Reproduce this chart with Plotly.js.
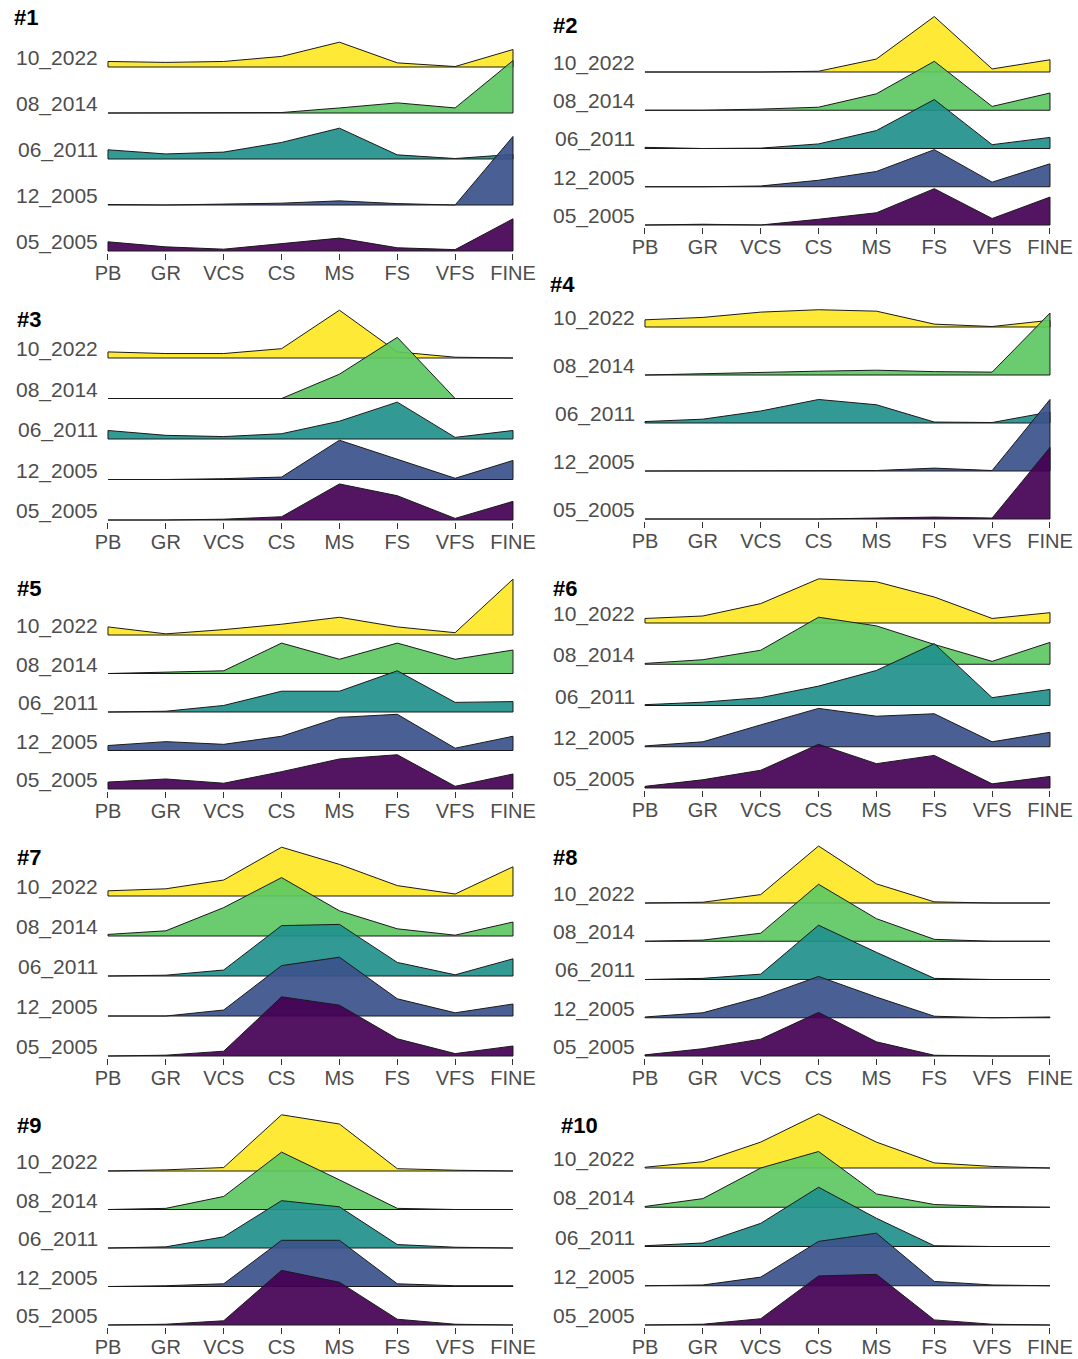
<!DOCTYPE html>
<html>
<head>
<meta charset="utf-8">
<script src="https://cdn.plot.ly/plotly-3.0.1.min.js"></script>
<style>html,body{margin:0;padding:0;background:#fff;}#chart{width:1078px;height:1359px;}</style>
</head>
<body>
<div id="chart"></div>
<script>
// ---------------- DATA ----------------
const categories = ['PB','GR','VCS','CS','MS','FS','VFS','FINE'];
const surveys = ['05_2005','12_2005','06_2011','08_2014','10_2022'];
const panelTitles = ['#1','#2','#3','#4','#5','#6','#7','#8','#9','#10'];

// values in units of ridge spacing, order PB..FINE
const p1_05_2005 = [0.20,0.09,0.04,0.16,0.28,0.07,0.03,0.70];
const p1_12_2005 = [0.01,0.00,0.02,0.04,0.09,0.03,0.00,1.49];
const p1_06_2011 = [0.20,0.11,0.15,0.36,0.67,0.09,0.01,0.10];
const p1_08_2014 = [0.00,0.00,0.00,0.01,0.11,0.22,0.11,1.14];
const p1_10_2022 = [0.12,0.10,0.12,0.23,0.54,0.09,0.01,0.38];

const p2_05_2005 = [0.00,0.02,0.00,0.15,0.32,0.95,0.17,0.73];
const p2_12_2005 = [0.00,0.00,0.02,0.17,0.40,0.97,0.12,0.60];
const p2_06_2011 = [0.03,0.00,0.01,0.12,0.47,1.28,0.10,0.29];
const p2_08_2014 = [0.00,0.00,0.03,0.08,0.43,1.28,0.10,0.45];
const p2_10_2022 = [0.00,0.00,0.00,0.02,0.34,1.45,0.08,0.32];

const p3_05_2005 = [0.00,0.00,0.02,0.08,0.89,0.60,0.04,0.46];
const p3_12_2005 = [0.00,0.00,0.02,0.06,0.97,0.50,0.03,0.47];
const p3_06_2011 = [0.21,0.09,0.06,0.13,0.44,0.91,0.04,0.21];
const p3_08_2014 = [0.00,0.00,0.00,0.00,0.60,1.51,0.00,0.00];
const p3_10_2022 = [0.15,0.11,0.11,0.23,1.18,0.15,0.02,0.00];

const p4_05_2005 = [0.00,0.00,0.00,0.00,0.02,0.04,0.02,1.49];
const p4_12_2005 = [0.00,0.00,0.00,0.00,0.01,0.06,0.01,1.49];
const p4_06_2011 = [0.03,0.08,0.25,0.49,0.38,0.02,0.01,0.23];
const p4_08_2014 = [0.00,0.03,0.06,0.08,0.10,0.07,0.06,1.29];
const p4_10_2022 = [0.15,0.20,0.31,0.36,0.33,0.06,0.01,0.14];

const p5_05_2005 = [0.18,0.26,0.15,0.45,0.78,0.89,0.07,0.39];
const p5_12_2005 = [0.13,0.23,0.16,0.37,0.86,0.94,0.06,0.37];
const p5_06_2011 = [0.00,0.02,0.17,0.54,0.54,1.07,0.25,0.27];
const p5_08_2014 = [0.00,0.03,0.07,0.79,0.37,0.79,0.37,0.61];
const p5_10_2022 = [0.21,0.03,0.14,0.28,0.46,0.21,0.06,1.45];

const p6_05_2005 = [0.04,0.20,0.43,1.06,0.59,0.79,0.10,0.28];
const p6_12_2005 = [0.02,0.12,0.53,0.93,0.74,0.80,0.12,0.35];
const p6_06_2011 = [0.02,0.08,0.19,0.47,0.85,1.50,0.19,0.39];
const p6_08_2014 = [0.02,0.11,0.34,1.14,0.93,0.48,0.07,0.53];
const p6_10_2022 = [0.11,0.17,0.47,1.07,1.00,0.63,0.11,0.25];

const p7_05_2005 = [0.00,0.02,0.12,1.48,1.27,0.43,0.06,0.25];
const p7_12_2005 = [0.00,0.00,0.15,1.26,1.47,0.43,0.08,0.30];
const p7_06_2011 = [0.00,0.02,0.15,1.26,1.29,0.34,0.03,0.43];
const p7_08_2014 = [0.04,0.13,0.71,1.46,0.63,0.18,0.02,0.35];
const p7_10_2022 = [0.13,0.18,0.40,1.22,0.79,0.26,0.05,0.73];

const p8_05_2005 = [0.03,0.19,0.44,1.14,0.37,0.02,0.00,0.00];
const p8_12_2005 = [0.02,0.13,0.54,1.08,0.54,0.04,0.00,0.02];
const p8_06_2011 = [0.00,0.03,0.14,1.42,0.71,0.03,0.00,0.00];
const p8_08_2014 = [0.00,0.03,0.21,1.49,0.59,0.05,0.00,0.00];
const p8_10_2022 = [0.00,0.02,0.22,1.49,0.50,0.03,0.00,0.00];

const p9_05_2005 = [0.00,0.02,0.11,1.42,1.11,0.15,0.02,0.00];
const p9_12_2005 = [0.00,0.02,0.07,1.20,1.20,0.07,0.02,0.02];
const p9_06_2011 = [0.00,0.03,0.29,1.23,1.07,0.09,0.02,0.00];
const p9_08_2014 = [0.00,0.03,0.34,1.49,0.77,0.03,0.00,0.00];
const p9_10_2022 = [0.00,0.03,0.09,1.46,1.22,0.06,0.02,0.00];

const p10_05_2005 = [0.00,0.02,0.16,1.25,1.29,0.13,0.02,0.00];
const p10_12_2005 = [0.00,0.02,0.22,1.13,1.34,0.11,0.02,0.00];
const p10_06_2011 = [0.02,0.09,0.59,1.51,0.72,0.02,0.00,0.00];
const p10_08_2014 = [0.02,0.22,1.00,1.42,0.34,0.07,0.02,0.00];
const p10_10_2022 = [0.02,0.16,0.66,1.38,0.66,0.13,0.04,0.00];

// ---------------- BUILD ----------------
const panelData = [
  [p1_05_2005,p1_12_2005,p1_06_2011,p1_08_2014,p1_10_2022],
  [p2_05_2005,p2_12_2005,p2_06_2011,p2_08_2014,p2_10_2022],
  [p3_05_2005,p3_12_2005,p3_06_2011,p3_08_2014,p3_10_2022],
  [p4_05_2005,p4_12_2005,p4_06_2011,p4_08_2014,p4_10_2022],
  [p5_05_2005,p5_12_2005,p5_06_2011,p5_08_2014,p5_10_2022],
  [p6_05_2005,p6_12_2005,p6_06_2011,p6_08_2014,p6_10_2022],
  [p7_05_2005,p7_12_2005,p7_06_2011,p7_08_2014,p7_10_2022],
  [p8_05_2005,p8_12_2005,p8_06_2011,p8_08_2014,p8_10_2022],
  [p9_05_2005,p9_12_2005,p9_06_2011,p9_08_2014,p9_10_2022],
  [p10_05_2005,p10_12_2005,p10_06_2011,p10_08_2014,p10_10_2022]
];

const W = 1078, H = 1359;
const fills = ['rgba(68,1,84,0.92)','rgba(59,82,139,0.92)','rgba(33,144,140,0.92)','rgba(93,200,99,0.92)','rgba(253,231,37,0.92)'];
const FONT = '"Liberation Sans", Arial, sans-serif';

// panel frame in pixels: PB/FINE x, bottom/top baselines, top of plot area, title pos
const geom = [
  {xl:108,xr:513,b0:251,b4:67,top:5,tx:12,ty:18},
  {xl:645,xr:1050,b0:225,b4:72,top:5,tx:551,ty:25},
  {xl:108,xr:513,b0:520,b4:358,top:290,tx:15,ty:320},
  {xl:645,xr:1050,b0:519,b4:327,top:285,tx:548,ty:285},
  {xl:108,xr:513,b0:789,b4:635,top:565,tx:15,ty:588},
  {xl:645,xr:1050,b0:788,b4:623,top:565,tx:551,ty:588},
  {xl:108,xr:513,b0:1056,b4:896,top:835,tx:15,ty:857},
  {xl:645,xr:1050,b0:1056,b4:903,top:835,tx:551,ty:857},
  {xl:108,xr:513,b0:1325,b4:1171,top:1100,tx:15,ty:1125},
  {xl:645,xr:1050,b0:1325,b4:1168,top:1100,tx:559,ty:1125}
];

const traces = [];
const layout = {
  width: W, height: H,
  margin: {l:0,r:0,t:0,b:0},
  paper_bgcolor: '#ffffff',
  plot_bgcolor: 'rgba(0,0,0,0)',
  showlegend: false,
  annotations: []
};

const xIdx = categories.map((c,i)=>i);

geom.forEach((g, p) => {
  const k = p + 1;
  const xa = 'x' + k, ya = 'y' + k;
  const s = (g.b0 - g.b4) / 4;
  const pxX = (g.xr - g.xl) / (categories.length - 1);
  const padX = 0.06;
  const yPadPx = 2;
  layout['xaxis' + k] = {
    domain: [(g.xl - padX*pxX)/W, (g.xr + padX*pxX)/W],
    range: [-padX, categories.length - 1 + padX],
    anchor: ya,
    tickmode: 'array', tickvals: xIdx, ticktext: categories,
    ticks: 'outside', ticklen: 6, tickwidth: 1, tickcolor: '#333333',
    ticklabelstandoff: -4,
    tickfont: {family: FONT, size: 20, color: '#4d4d4d'},
    showgrid: false, zeroline: false, showline: false, fixedrange: true
  };
  layout['yaxis' + k] = {
    domain: [1 - (g.b0 + yPadPx)/H, 1 - g.top/H],
    range: [-yPadPx/s, (g.b0 - g.top)/s],
    anchor: xa,
    showticklabels: false, showgrid: false, zeroline: false, showline: false, ticks: '', fixedrange: true
  };
  // draw top survey first so lower ridges overlay it
  for (let j = surveys.length - 1; j >= 0; j--) {
    const vals = panelData[p][j];
    const xs = xIdx.concat([categories.length - 1, 0, 0]);
    const ys = vals.map(v => j + v).concat([j, j, j + vals[0]]);
    traces.push({
      type: 'scatter', mode: 'lines', x: xs, y: ys,
      xaxis: xa, yaxis: ya,
      fill: 'toself', fillcolor: fills[j],
      line: {color: '#1a1a1a', width: 1},
      hoverinfo: 'skip', showlegend: false
    });
    layout.annotations.push({
      xref: 'paper', yref: ya,
      x: (g.xl - 8)/W, y: j,
      xanchor: 'right', yanchor: 'bottom', yshift: -5,
      text: surveys[j], showarrow: false,
      font: {family: FONT, size: 21, color: '#4d4d4d'}
    });
  }
  layout.annotations.push({
    xref: 'paper', yref: 'paper',
    x: g.tx/W, y: 1 - g.ty/H,
    xanchor: 'left', yanchor: 'middle',
    text: '<b>' + panelTitles[p] + '</b>', showarrow: false,
    font: {family: FONT, size: 22, color: '#000000'}
  });
});

Plotly.newPlot('chart', traces, layout, {staticPlot: true, displayModeBar: false});
</script>
</body>
</html>
